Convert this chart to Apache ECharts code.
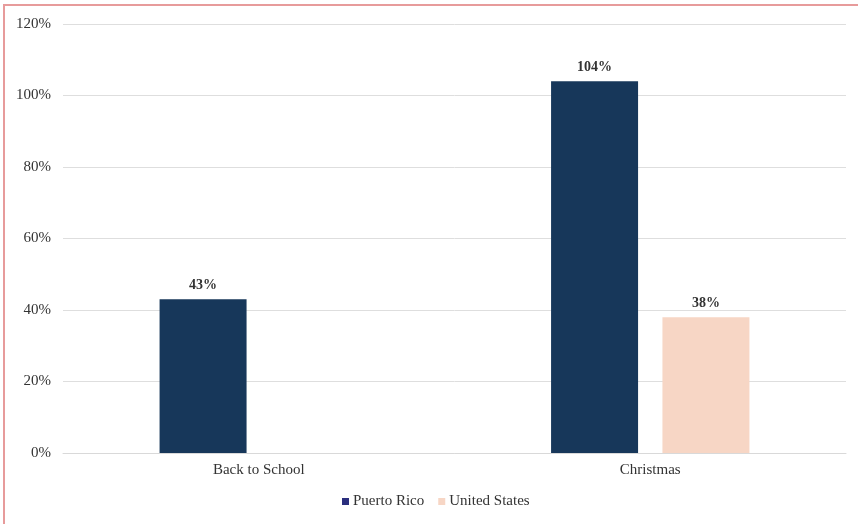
<!DOCTYPE html>
<html>
<head>
<meta charset="utf-8">
<script src="https://cdn.jsdelivr.net/npm/echarts@6/dist/echarts.min.js"></script>
<style>
    html, body { margin: 0; padding: 0; background: #fff; }
    #frame {
        position: absolute; left: 3px; top: 4px; width: 855px; height: 520px;
        border-left: 2px solid #e79b9b; border-top: 2px solid #e79b9b;
        box-sizing: border-box;
    }
    #chart { position: absolute; left: 0; top: 0; width: 860px; height: 524px; }
</style>
</head>
<body>
<div id="frame"></div>
<div id="chart"></div>
<script>
//类别与数据
var categories = ['Back to School', 'Christmas'];
var puertoRico = [43, 104];
var unitedStates = [null, 38];
var yTicks = [0, 20, 40, 60, 80, 100, 120];

var fontFamily = '"Liberation Serif", "Times New Roman", serif';

var chartObj = echarts.init(document.getElementById('chart'));
var chartOption = {
    animation: false,
    textStyle: { fontFamily: fontFamily },
    grid: { left: 63, right: 14, top: 24, bottom: 71 },
    legend: {
        bottom: 10,
        left: 337,
        itemWidth: 7,
        itemHeight: 7,
        itemGap: 14,
        icon: 'rect',
        textStyle: { fontFamily: fontFamily, fontSize: 15, color: '#333', padding: [0, 0, 0, -1] },
        data: [
            { name: 'Puerto Rico', itemStyle: { color: '#2b2f7e' } },
            { name: 'United States' }
        ]
    },
    xAxis: {
        type: 'category',
        data: categories,
        axisTick: { show: false },
        axisLine: { lineStyle: { color: '#d9d9d9' } },
        axisLabel: { color: '#333', fontSize: 15, margin: 10, fontFamily: fontFamily }
    },
    yAxis: {
        type: 'value',
        min: yTicks[0],
        max: yTicks[yTicks.length - 1],
        interval: 20,
        axisLine: { show: false },
        axisTick: { show: false },
        splitLine: { lineStyle: { color: '#dedede', width: 1 } },
        axisLabel: {
            color: '#333', fontSize: 15, margin: 12, fontFamily: fontFamily,
            formatter: function (v) { return v + '%'; }
        }
    },
    series: [
        {
            name: 'Puerto Rico',
            type: 'bar',
            data: puertoRico,
            barWidth: 87,
            barGap: '28%',
            itemStyle: { color: '#17375a' },
            label: {
                show: true, position: 'top', distance: 7,
                color: '#333', fontSize: 14, fontWeight: 'bold', fontFamily: fontFamily,
                formatter: '{c}%'
            }
        },
        {
            name: 'United States',
            type: 'bar',
            data: unitedStates,
            barWidth: 87,
            itemStyle: { color: '#f7d6c5' },
            label: {
                show: true, position: 'top', distance: 7,
                color: '#333', fontSize: 14, fontWeight: 'bold', fontFamily: fontFamily,
                formatter: '{c}%'
            }
        }
    ]
};
chartObj.setOption(chartOption);
</script>
</body>
</html>
